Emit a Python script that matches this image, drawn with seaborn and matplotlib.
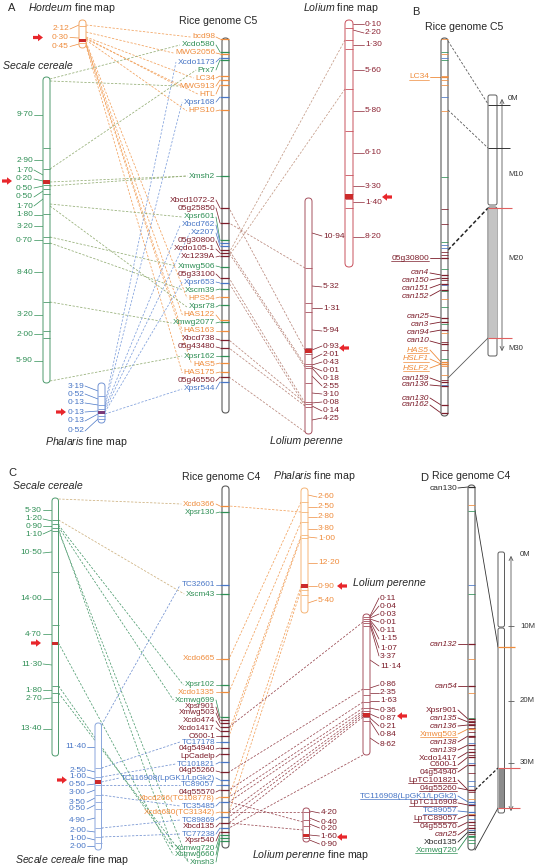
import matplotlib
matplotlib.use("Agg")
import matplotlib.pyplot as plt
import seaborn as sns
from matplotlib.patches import FancyBboxPatch, Rectangle

sns.set_theme(style="white")
plt.rcParams["font.family"] = ["Liberation Sans", "DejaVu Sans"]
plt.rcParams["mathtext.fontset"] = "custom"
plt.rcParams["mathtext.it"] = "Liberation Sans:italic"
plt.rcParams["mathtext.rm"] = "Liberation Sans"

ORANGE = "#ef8c3c"
GREEN = "#2f8f55"
BLUE = "#4876c6"
DRED = "#7c1d2a"
GREY = "#5a5a5a"
RED = "#e8262b"
BAND = "#cc2a2a"
COLS = {"o": ORANGE, "g": GREEN, "b": BLUE, "r": DRED, "k": "#2a2a2a"}

# ---------------- rice genome C5 (panel A) ----------------
c5_names = ["bcd98", "Xcdo580", "MWG2056", "Xcdo1173", "Prx7", "LC34", "MWG913", "HTL",
            "Xpsr168", "HPS10", "Xmsh2", "Xbcd1072-2", "05g25850", "Xpsr601", "Xbcd762",
            "Xz207", "05g30800", "Xcdo105-1", "Xc1239A", "Xmwg506", "05g33100", "Xpsr653",
            "Xscm39", "HPS54", "Xpsr78", "HAS122", "Xmwg2077", "HAS163", "Xbcd738",
            "05g43480", "Xpsr162", "HAS5", "HAS175", "05g46550", "Xpsr544"]
c5_cols = list("ogobgooobogrrgbbrrrgrbgogogorrgoorb")
c5_label_y = [37, 45, 53, 62, 70, 78, 86, 94, 102, 111, 176, 200, 208, 217, 225, 233, 241,
              249, 257, 266, 274, 282, 290, 298, 307, 315, 323, 331, 339, 347, 356, 364,
              373, 381, 389]
c5_pos = [39, 52, 54, 58, 60, 76, 80, 85, 97, 110, 176, 208, 223, 240, 243, 246, 250, 253,
          256, 267, 278, 283, 289, 297, 305, 320, 322, 331, 340, 348, 356, 363, 372, 377, 382]

# ---------------- rice genome C4 (panel C) ----------------
c4_names = ["Xcdo366", "Xpsr130", "TC32601", "Xscm43", "Xcdo665", "Xpsr102", "Xcdo1335",
            "Xcmwg699", "Xpsr901", "Xmwg503", "Xcdo474", "Xcdo1417", "C600-1", "TC17178",
            "04g54940", "LpCadelp", "TC101821", "04g55260", "TC116908(LpGK1/LpGk2)",
            "TC89057", "04g55570", "Xbcd266(TC108778)", "TC35485", "Xcdo680(TC31342)",
            "TC89869", "Xbcd135", "TC77238", "Xpsr540", "Xcmwg720", "Xcmwg660", "Xmsh3"]
c4_cols = list("ogbgogogrrrrrbrrbrbbrobobrbrggg")
c4_label_y = [504, 513, 585, 594, 659, 685, 692, 700, 707, 713, 721, 728, 736, 742, 749,
              757, 764, 771, 778, 785, 792, 799, 806, 813, 820, 827, 834, 841, 848, 855, 862]
c4_pos = [506, 512, 585, 594, 659, 685, 692, 717, 720, 723, 727, 731, 736, 742, 748, 754,
          762, 772, 780, 785, 790, 797, 802, 812, 817, 823, 828, 832, 835, 838, 841]

# ---------------- genetic maps (interval distances in cM) ----------------
hord_vals = ["2·12", "0·30", "0·45"]
hord_lab = [29, 37.5, 46.5]
hord_lead = [25, 38, 44]
hord_bounds = [26, 43]

seca_vals = ["9·70", "2·90", "1·70", "0·20", "0·50", "0·50", "1·70", "1·80", "3·20",
             "0·70", "8·40", "3·20", "2·00", "5·90"]
seca_lab = [115, 160, 170, 179, 188, 197, 206, 215, 226, 240, 272, 315, 334, 361]
seca_lead = [115, 160, 175, 181, 186, 191, 199, 215, 226, 240, 272, 315, 334, 361]
seca_bounds = [148, 169, 185, 189, 194, 214, 237, 243, 302, 331, 338]

phaa_vals = ["3·19", "0·52", "0·13", "0·13", "0·13", "0·52"]
phaa_lab = [386, 394, 403, 412, 421, 431]
phaa_lead = [391, 399, 405, 411, 414, 419]
phaa_bounds = [396, 405, 409, 416, 419]

lolf_vals = ["0·10", "2·20", "1·30", "5·60", "5·80", "6·10", "3·30", "1·40", "8·20"]
lolf_lab = [24, 33, 45, 70, 111, 153, 186, 202, 237]
lolf_lead = [24, 30, 45, 70, 111, 153, 186, 202, 237]
lolf_bounds = [28, 40, 49, 89, 131, 175, 194, 199, 208]

lpa_vals = ["10·94", "5·32", "1·31", "5·94", "0·93", "2·01", "0·43", "0·01", "0·18",
            "2·55", "3·10", "0·08", "0·14", "4·25"]
lpa_lab = [236, 287, 308, 331, 346, 354, 362, 371, 379, 386, 394, 402, 411, 418]
lpa_lead = [233, 286, 308, 330, 350, 359, 365, 367, 368, 376, 393, 403, 406, 420]
lpa_bounds = [268, 303, 312, 348, 354, 364, 366, 368, 383, 402, 404, 407]

secc_vals = ["5·30", "1·20", "0·90", "1·10", "10·50", "14·00", "4·70", "11·30", "1·80",
             "2·70", "13·40"]
secc_lab = [510, 519, 526, 534, 553, 599, 634, 664, 690, 699, 729]
secc_lead = [510, 521, 526, 530, 552, 599, 634, 665, 690, 698, 729]
secc_bounds = [520, 524, 528, 531, 572, 625, 686, 693, 702]

secf_vals = ["11·40", "2·50", "1·00", "0·50", "3·00", "3·50", "0·50", "4·90", "2·00",
             "1·00", "2·00"]
secf_lab = [747, 770, 777, 785, 793, 802, 809, 820, 831, 838, 846]
secf_lead = [747, 772, 779, 784, 790, 798, 805, 818, 832, 840, 846]
secf_bounds = [768, 777, 785, 795, 802, 809, 828, 837, 843]

phac_vals = ["2·60", "2·50", "2·80", "3·80", "1·00", "12·20", "0·90", "5·40"]
phac_lab = [497, 507, 517, 529, 538, 563, 586, 600]
phac_lead = [495, 507, 517, 529, 537, 563, 586, 603]
phac_bounds = [502, 512, 522, 535, 538, 590, 595]

lpc_vals = ["0·11", "0·04", "0·03", "0·01", "0·11", "1·15", "1·07", "3·37", "11·14",
            "0·86", "2·35", "1·63", "0·36", "0·87", "0·21", "0·84", "8·62"]
lpc_lab = [598, 606, 614, 622, 631, 639, 648, 656, 666, 685, 693, 701, 710, 718, 726,
           735, 744]
lpc_lead = [616, 617, 618, 619, 620, 621, 623, 625, 660, 688, 693, 701, 708, 714, 718,
            721, 738]
lpc_bounds = [617, 619, 621, 623, 626, 689, 695, 702, 708, 711, 717, 721]

lpf_vals = ["4·20", "0·40", "0·20", "1·60", "0·90"]
lpf_lab = [813, 822, 828, 836, 844]
lpf_lead = [811, 818, 824, 835, 840]
lpf_bounds = [812, 820, 826, 838]

# ---------------- syntenic links ----------------
hord_links = [(25, "bcd98"), (32, "MWG2056"), (37, "LC34"), (38, "MWG913"), (39, "HTL"),
              (40, "HPS10"), (42, "HPS54"), (43, "HAS122"), (44, "HAS163"), (45, "HAS5"),
              (46, "HAS175")]
seca_links = [(79, "Xcdo580"), (81, "MWG913"), (169, "Prx7"), (182, "Xmsh2"),
              (186, "Xmsh2"), (204, "Xpsr601"), (206, "Xpsr78"), (237, "Xmwg506"),
              (243, "Xscm39"), (302, "Xmwg2077"), (381, "Xpsr162")]
phaa_links = [(404, "Xcdo1173"), (406, "Xpsr168"), (408, "Xbcd762"), (410, "Xz207"),
              (412, "Xpsr653"), (414, "Xpsr544")]
lolf_links = [(40, "Xcdo105-1"), (89, "Xc1239A")]
lpa_links = [(350, "Xbcd1072-2"), (268, "05g25850"), (365, "05g30800"), (367, "Xcdo105-1"),
             (403, "05g33100"), (406, "Xpsr653"), (403, "Xbcd738"), (406, "05g43480"),
             (432, "05g46550")]
secc_links_tan = [(499, "Xcdo366"), (520, "Xscm43")]
secc_links = [(525, "Xpsr102"), (527, "Xcmwg699"), (529, "Xcmwg720"), (531, "Xmsh3"),
              (643, "Xcmwg660"), (686, "Xcmwg720"), (693, "Xmsh3")]
secf_links = [(725, "TC32601"), (768, "TC17178"), (777, "TC101821"),
              (782, "TC116908(LpGK1/LpGk2)"), (785, "TC89057"), (795, "TC35485"),
              (828, "TC89869"), (837, "TC77238")]
phac_links = [(512, "Xcdo366"), (502, "Xcdo665"), (522, "Xcdo1335"), (536, "Xcdo1417"),
              (538, "C600-1"), (586, "Xbcd266(TC108778)"), (590, "Xcdo680(TC31342)")]
lpc_links = [(622, "Xcdo474"), (689, "04g55260"), (702, "04g55570"),
             (708, "Xbcd266(TC108778)"), (711, "TC35485"), (713, "Xcdo680(TC31342)"),
             (715, "TC89869"), (717, "Xbcd135"), (755, "TC77238")]
lpf_links = [(812, "Xcdo680(TC31342)"), (822, "TC35485"), (830, "Xbcd135")]

# ---------------- panel B / D candidate genes ----------------
b_names = ["LC34", "05g30800", "can4", "can150", "can151", "can152", "can25", "can3",
           "can94", "can10", "HAS5", "HSLF1", "HSLF2", "can159", "can136", "can130", "can162"]
b_cols = list("orrrrrrrrrooorrrr")
b_italic = [0, 0, 1, 1, 1, 1, 1, 1, 1, 1, 1, 1, 1, 1, 1, 1, 1]
b_under = [1, 1, 0, 0, 0, 0, 0, 0, 0, 0, 1, 1, 1, 0, 0, 0, 0]
b_lab_y = [77, 258, 273, 280, 288, 296, 316, 324, 332, 341, 350, 359, 368, 378, 385, 398, 405]
b_pos = [77, 258, 275, 278, 284, 290, 318, 322, 330, 344, 362, 364, 364, 382, 386, 405, 413]

d_names = ["can130", "can132", "can54", "Xpsr901", "can135", "can136", "Xmwg503", "can138",
           "can139", "Xcdo1417", "C600-1", "04g54940", "LpTC101821", "04g55260",
           "TC116908(LpGK1/LpGk2)", "LpTC116908", "TC89057", "LpTC89057", "04g55570",
           "can25", "Xbcd135", "Xcmwg720"]
d_cols = list("krrrrrorrrrrrrbrbrrrkg")
d_italic = [0, 1, 1, 0, 1, 1, 0, 1, 1, 0, 0, 0, 0, 0, 0, 0, 0, 0, 0, 1, 0, 0]
d_under = [0, 0, 0, 0, 0, 0, 1, 0, 0, 0, 1, 0, 1, 1, 1, 1, 1, 1, 0, 0, 0, 1]
d_lab_y = [488, 644, 686, 710, 718, 726, 734, 742, 750, 758, 765, 772, 780, 788, 796, 803,
           811, 819, 827, 835, 842, 850]
d_pos = [487, 644, 686, 719, 722, 725, 729, 736, 745, 752, 757, 765, 790, 790, 802, 805,
         812, 815, 822, 828, 832, 836]

b_scale = ["0M", "M10", "M20", "M30"]
d_scale = ["0M", "10M", "20M", "30M"]

# ======================================================================
fig = plt.figure(figsize=(5.35, 8.67), dpi=100)
ax = fig.add_axes([0, 0, 1, 1])
ax.set_xlim(0, 535)
ax.set_ylim(867, 0)
ax.axis("off")

DASH = (0, (3, 2))


def chrom(x, y0, y1, w, ec, lw=0.7, r=None):
    r = w / 2 if r is None else r
    ax.add_patch(FancyBboxPatch((x, y0), w, y1 - y0,
                                boxstyle=f"round,pad=0,rounding_size={r}",
                                fc="white", ec=ec, lw=lw, zorder=3))


def gmap(x, y0, y1, w, ec, bounds, vals, lab_y, lead_y, side, tc, band=None,
         gap=10, band_col=BAND, fs=6):
    chrom(x, y0, y1, w, ec)
    ax.hlines(bounds, x, x + w, color=ec, lw=0.6, zorder=4)
    if band is not None:
        ax.add_patch(Rectangle((x + 0.4, band[0]), w - 0.8, band[1] - band[0],
                               fc=band_col, ec="none", zorder=5))
    for v, ly, ty in zip(vals, lab_y, lead_y):
        if side == "left":
            ax.plot([x - gap + 1, x], [ly, ty], color=tc, lw=0.5, zorder=2)
            ax.text(x - gap, ly, v, ha="right", va="center", fontsize=fs, color=tc)
        else:
            ax.plot([x + w, x + w + gap - 1], [ty, ly], color=tc, lw=0.5, zorder=2)
            ax.text(x + w + gap, ly, v, ha="left", va="center", fontsize=fs, color=tc)


def rice(x, y0, y1, w, names, cols, lab_y, pos, xlab, fs=6):
    chrom(x, y0, y1, w, GREY, lw=0.8)
    texts = {}
    for n, c, ly, ty in zip(names, cols, lab_y, pos):
        col = COLS[c]
        ax.hlines(ty, x - 2, x + w, color=col, lw=0.9, zorder=5)
        ax.plot([xlab + 1, x - 2], [ly, ty], color=col, lw=0.5, zorder=2)
        texts[n] = ax.text(xlab, ly, n, ha="right", va="center", fontsize=fs, color=col)
    return texts


def arrow(x, y, direction):
    dx = 10 if direction == "right" else -10
    ax.arrow(x, y, dx, 0, width=3.2, head_width=7.5, head_length=5,
             length_includes_head=True, color=RED, lw=0, zorder=6)


def cand(x, y0, y1, w, names, cols, italic, under, lab_y, pos, xlab, base_names,
         base_cols, base_pos, by0, by1):
    chrom(x, y0, y1, w, GREY, lw=0.8)
    scale = (y1 - y0) / (by1 - by0)
    for c, p in zip(base_cols, base_pos):
        ax.hlines(y0 + (p - by0) * scale, x, x + w, color=COLS[c], lw=0.7, alpha=0.8, zorder=4)
    out = []
    for n, c, it, u, ly, ty in zip(names, cols, italic, under, lab_y, pos):
        col = COLS[c]
        ax.hlines(ty, x, x + w, color=col, lw=0.9, zorder=5)
        ax.plot([xlab + 1, x], [ly, ty], color=col, lw=0.6, zorder=2)
        t = ax.text(xlab, ly, n, ha="right", va="center", fontsize=6, color=col,
                    fontstyle="italic" if it else "normal")
        if u:
            out.append(t)
    return out


# ---------------- panel A ----------------
ax.text(8, 8, "A", fontsize=8, va="center")
ax.text(28, 8, r"$\it{Hordeum}$ fine map", fontsize=7.6, va="center")
ax.text(3, 66, "Secale cereale", fontsize=7.6, va="center", fontstyle="italic")
ax.text(218, 21, "Rice genome C5", fontsize=7.6, va="center", ha="center")
ax.text(303, 8, r"$\it{Lolium}$ fine map", fontsize=7.6, va="center")
ax.text(270, 441, "Lolium perenne", fontsize=7.6, va="center", fontstyle="italic")
ax.text(45, 442, r"$\it{Phalaris}$ fine map", fontsize=7.6, va="center")

gmap(79, 20, 48, 7, "#f2a766", hord_bounds, hord_vals, hord_lab, hord_lead, "left",
     ORANGE, band=(38.8, 41.6), gap=10)
gmap(43, 77, 383, 7, "#4c9a6c", seca_bounds, seca_vals, seca_lab, seca_lead, "left",
     GREEN, band=(180, 183.5), gap=10)
gmap(98, 383, 423, 7, "#7394d4", phaa_bounds, phaa_vals, phaa_lab, phaa_lead, "left",
     BLUE, band=(410.5, 414), gap=14, band_col="#7a3a78")
gmap(345, 20, 267, 8, "#c8505c", lolf_bounds, lolf_vals, lolf_lab, lolf_lead, "right",
     "#8c2333", band=(193.5, 199), gap=12)
gmap(305, 198, 434, 7, "#a6505e", lpa_bounds, lpa_vals, lpa_lab, lpa_lead, "right",
     DRED, band=(348.5, 353), gap=11)
c5_text = rice(222, 38, 413, 7, c5_names, c5_cols, c5_label_y, c5_pos, 215)

arrow(33, 37.5, "right")
arrow(2, 181, "right")
arrow(56, 412, "right")
arrow(392, 197, "left")
arrow(349, 348, "left")

# ---------------- panel B ----------------
ax.text(412, 12, "B", fontsize=8, va="center")
ax.text(464, 27, "Rice genome C5", fontsize=7.6, va="center", ha="center")
b_under_t = cand(441, 38, 416, 7, b_names, b_cols, b_italic, b_under, b_lab_y, b_pos, 429,
                 c5_names, c5_cols, c5_pos, 38, 413)
ax.add_patch(FancyBboxPatch((488, 95), 9, 110, boxstyle="round,pad=0,rounding_size=2",
                            fc="white", ec=GREY, lw=0.7, zorder=3))
ax.add_patch(FancyBboxPatch((488, 207), 9, 149, boxstyle="round,pad=0,rounding_size=2",
                            fc="white", ec=GREY, lw=0.7, zorder=3))
ax.add_patch(Rectangle((488.5, 208), 8, 130, fc="#c4c4c4", ec="none", zorder=4))
ax.hlines([105, 148], 488, 510, color="#333333", lw=0.7, zorder=5)
ax.hlines([208, 338], 488, 512, color="#e06060", lw=0.8, zorder=5)
ax.annotate("", xy=(502, 96), xytext=(502, 354),
            arrowprops=dict(arrowstyle="<->", lw=0.6, color=GREY, mutation_scale=7))
for s, yy in zip(b_scale, [98, 175, 258, 349]):
    ax.text(508, yy, s, fontsize=5.6, va="center", color="#333333")
ax.plot([448, 488], [41, 104], color=GREY, lw=0.6, ls=DASH)
ax.plot([448, 488], [110, 148], color=GREY, lw=0.6, ls=DASH)
ax.plot([448, 488], [250, 208], color="#222222", lw=1.1, ls=(0, (2.5, 1.5)))
ax.plot([448, 488], [378, 338], color=GREY, lw=0.6)

# ---------------- panel C ----------------
ax.text(8, 473, "C", fontsize=8, va="center")
ax.text(13, 486, "Secale cereale", fontsize=7.6, va="center", fontstyle="italic")
ax.text(221, 477, "Rice genome C4", fontsize=7.6, va="center", ha="center")
ax.text(273, 476, r"$\it{Phalaris}$ fine map", fontsize=7.6, va="center")
ax.text(353, 583, "Lolium perenne", fontsize=7.6, va="center", fontstyle="italic")
ax.text(15, 860, r"$\it{Secale\ cereale}$ fine map", fontsize=7.6, va="center")
ax.text(252, 855, r"$\it{Lolium\ perenne}$ fine map", fontsize=7.6, va="center")

gmap(52, 498, 756, 6.5, "#4c9a6c", secc_bounds, secc_vals, secc_lab, secc_lead, "left",
     GREEN, band=(641.5, 645), gap=10)
gmap(95, 723, 850, 6.5, "#8aa6dc", secf_bounds, secf_vals, secf_lab, secf_lead, "left",
     BLUE, band=(780, 784), gap=9)
gmap(301, 488, 613, 7, "#f5b475", phac_bounds, phac_vals, phac_lab, phac_lead, "right",
     ORANGE, band=(584, 588), gap=10)
gmap(363, 614, 755, 7, "#a6505e", lpc_bounds, lpc_vals, lpc_lab, lpc_lead, "right",
     DRED, band=(713, 716.5), gap=10)
gmap(303, 808, 842, 6.5, "#a6505e", lpf_bounds, lpf_vals, lpf_lab, lpf_lead, "right",
     DRED, band=(834, 837), gap=11)
c4_text = rice(222, 486, 848, 7, c4_names, c4_cols, c4_label_y, c4_pos, 215, fs=5.9)

arrow(31, 643, "right")
arrow(57, 780, "right")
arrow(347, 586, "left")
arrow(407, 716, "left")
arrow(347, 837, "left")

# ---------------- panel D ----------------
ax.text(420, 478, "D", fontsize=8, va="center")
ax.text(471, 476, "Rice genome C4", fontsize=7.6, va="center", ha="center")
d_under_t = cand(468, 485, 850, 7, d_names, d_cols, d_italic, d_under, d_lab_y, d_pos, 457,
                 c4_names, c4_cols, c4_pos, 486, 848)
ax.add_patch(FancyBboxPatch((498, 552), 6.5, 75, boxstyle="round,pad=0,rounding_size=2",
                            fc="white", ec=GREY, lw=0.7, zorder=3))
ax.add_patch(FancyBboxPatch((498, 628), 6.5, 185, boxstyle="round,pad=0,rounding_size=2",
                            fc="white", ec=GREY, lw=0.7, zorder=3))
ax.add_patch(Rectangle((498.5, 768), 5.5, 40, fc="#8c8c8c", ec="none", zorder=4))
ax.hlines(647, 498, 515, color=ORANGE, lw=0.9, zorder=5)
ax.hlines([768, 808], 498, 520, color="#e06060", lw=0.8, zorder=5)
ax.annotate("", xy=(511, 553), xytext=(511, 814),
            arrowprops=dict(arrowstyle="<->", lw=0.6, color=GREY, mutation_scale=7))
ax.hlines([626, 701, 763], 508, 514, color=GREY, lw=0.6)
for s, yy in zip(d_scale, [554, 626, 701, 763]):
    ax.text(520, yy, s, fontsize=5.6, va="center", color="#333333")
ax.plot([475, 498], [510, 647], color="#333333", lw=0.6)
ax.plot([475, 498], [790, 768], color="#222222", lw=0.9, ls=(0, (2.5, 1.5)))
ax.plot([475, 498], [850, 808], color="#333333", lw=0.6)

# ---------------- links need text extents ----------------
fig.canvas.draw()
renderer = fig.canvas.get_renderer()
inv = ax.transData.inverted()


def left_x(t):
    bb = t.get_window_extent(renderer)
    return inv.transform((bb.x0, bb.y0))[0]


def to_labels(src_x, items, texts, color):
    for sy, name in items:
        t = texts[name]
        ax.plot([src_x, left_x(t) - 1.5], [sy, t.get_position()[1]], color=color,
                lw=0.55, ls=DASH, zorder=1)


def to_chrom(src_x, items, names, pos, cx, color):
    tick = dict(zip(names, pos))
    for sy, name in items:
        ax.plot([src_x, cx], [sy, tick[name]], color=color, lw=0.55, ls=DASH, zorder=1)


to_labels(86, hord_links, c5_text, "#f2a15c")
to_labels(50, seca_links, c5_text, "#93ad74")
to_labels(105, phaa_links, c5_text, "#7f9fdc")
to_chrom(345, lolf_links, c5_names, c5_pos, 229, "#c49a86")
to_chrom(305, lpa_links, c5_names, c5_pos, 229, "#b8867a")

to_labels(58.5, secc_links_tan, c4_text, "#cdb07e")
to_labels(58.5, secc_links, c4_text, "#4f9c70")
to_labels(101.5, secf_links, c4_text, "#7090d0")
to_chrom(301, phac_links, c4_names, c4_pos, 229, "#f2a15c")
to_chrom(363, lpc_links, c4_names, c4_pos, 229, "#9a4a52")
to_chrom(303, lpf_links, c4_names, c4_pos, 229, "#9a4a52")

for t in b_under_t + d_under_t:
    bb = t.get_window_extent(renderer)
    (x0, yb), (x1, _) = inv.transform([(bb.x0, bb.y0), (bb.x1, bb.y1)])
    ax.plot([x0, x1], [yb - 0.8, yb - 0.8], color=t.get_color(), lw=0.5)

fig.savefig("out.png", dpi=100)
plt.close(fig)
